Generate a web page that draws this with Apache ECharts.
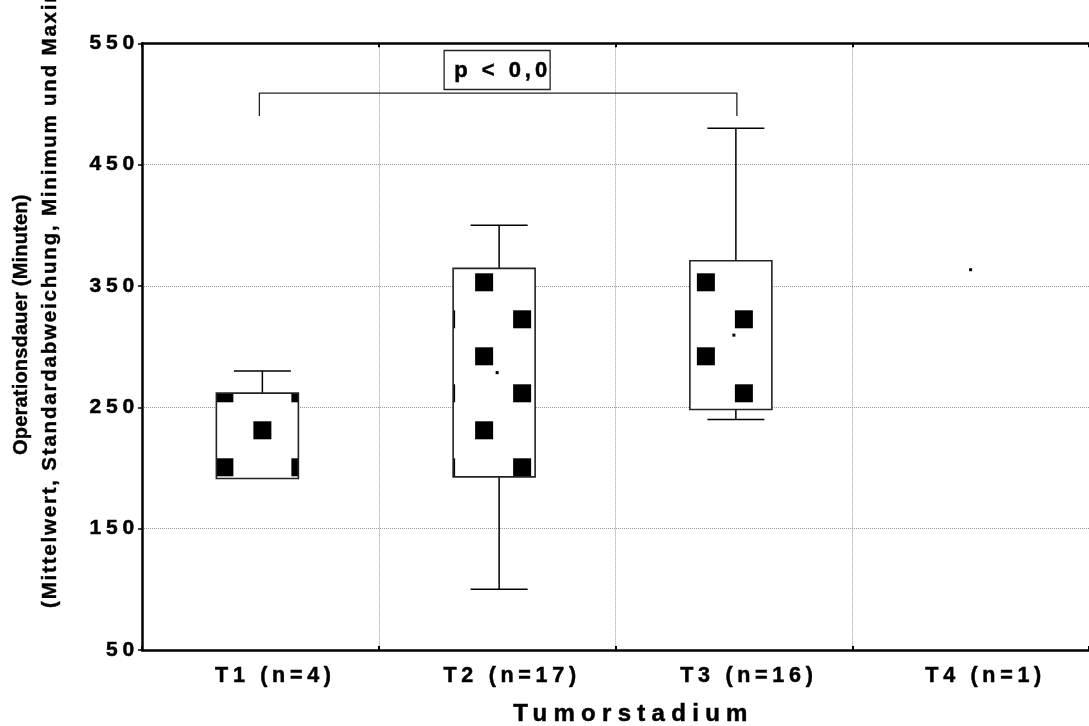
<!DOCTYPE html>
<html><head><meta charset="utf-8">
<script src="https://cdn.jsdelivr.net/npm/echarts@6/dist/echarts.min.js"></script>
<style>html,body{margin:0;padding:0;background:#fff}#c{width:1089px;height:726px}</style>
</head><body><div id="c"></div>
<script>
// ---- data ----
const categories = ['T1 (n=4)', 'T2 (n=17)', 'T3 (n=16)', 'T4 (n=1)'];
const means = [226.5, 278.6, 309.5, 363.4];
const sds = [35.2, 85.9, 61.3, 0];
const mins = [192, 100, 240, 363.4];
const maxs = [280, 400, 480, 363.4];
const yTicks = [50, 150, 250, 350, 450, 550];
const bracketCats = [0, 2];
const bracketLevels = [509, 490];
const pLabel = 'p < 0,0';
const pLabelCat = [1];
const pLabelLevel = [528];
const xTitle = 'Tumorstadium';
const yTitle1 = 'Operationsdauer (Minuten)';
const yTitle2 = '(Mittelwert, Standardabweichung, Minimum und Maximum)';

// ---- letter spacing by font size (reference text is widely spaced) ----
(function () {
  const proto = CanvasRenderingContext2D.prototype;
  const d = Object.getOwnPropertyDescriptor(proto, 'font');
  const map = { '21px': '4.8px', '21.5px': '4.7px', '24px': '6.3px', '22px': '4px', '20px': '0.2px', '20.5px': '1.8px' };
  if (d && 'letterSpacing' in proto) {
    Object.defineProperty(proto, 'font', {
      configurable: true,
      get() { return d.get.call(this); },
      set(v) {
        d.set.call(this, v);
        const m = /(\d+(?:\.\d+)?px)/.exec(v);
        this.letterSpacing = (m && map[m[1]]) || '0px';
      }
    });
  }
})();

const FF = 'Liberation Sans';
const TB = { textBorderColor: '#000', textBorderWidth: 0.5 };
const chart = echarts.init(document.getElementById('c'), null, { renderer: 'canvas' });

function renderBox(params, api) {
  const idx = api.value(0);
  const mean = api.value(1), sd = api.value(2), mn = api.value(3), mx = api.value(4);
  const cs = params.coordSys;
  const c = api.coord([idx, mean]);
  const cx = c[0];
  const boxX = cx - 3, whX = cx + 2;
  const halfW = 41, capHalf = 28.5;
  const yTop = api.coord([idx, mean + sd])[1];
  const yBot = api.coord([idx, mean - sd])[1];
  const yMax = api.coord([idx, mx])[1];
  const yMin = api.coord([idx, mn])[1];
  const ls = { stroke: '#000', lineWidth: 1.5 };
  const ch = [];
  if (yMax < yTop - 0.5) {
    ch.push({ type: 'line', shape: { x1: whX, y1: yTop, x2: whX, y2: yMax }, style: ls });
    ch.push({ type: 'line', shape: { x1: whX - capHalf, y1: yMax, x2: whX + capHalf, y2: yMax }, style: ls });
  }
  if (yMin > yBot + 0.5) {
    ch.push({ type: 'line', shape: { x1: whX, y1: yBot, x2: whX, y2: yMin }, style: ls });
    ch.push({ type: 'line', shape: { x1: whX - capHalf, y1: yMin, x2: whX + capHalf, y2: yMin }, style: ls });
  }
  if (sd > 0) {
    const L = boxX - halfW, R = boxX + halfW, T = yTop, B = yBot;
    ch.push({ type: 'rect', shape: { x: L, y: T, width: R - L, height: B - T }, style: { fill: '#fff' } });
    const rowStart = cs.y + 8, rp = 37, cp = 38, sz = 18;
    const colAnchor = cx - 7 - 15 * idx;
    for (let k = 0; k < 20; k++) {
      const ry = rowStart + rp * k;
      for (let i = -4; i <= 4; i++) {
        if (Math.abs(i + k) % 2 !== 0) continue;
        const rx = colAnchor + cp * i;
        const x0 = Math.max(rx, L), x1 = Math.min(rx + sz, R);
        const y0 = Math.max(ry, T), y1 = Math.min(ry + sz, B);
        if (x1 - x0 > 0.3 && y1 - y0 > 0.3) {
          ch.push({ type: 'rect', shape: { x: x0, y: y0, width: x1 - x0, height: y1 - y0 }, style: { fill: '#000' } });
        }
      }
    }
    ch.push({ type: 'rect', shape: { x: L, y: T, width: R - L, height: B - T }, style: { fill: 'none', stroke: '#222', lineWidth: 1.6 } });
  }
  ch.push({ type: 'rect', shape: { x: cx - 1.5, y: c[1] - 1.5, width: 3, height: 3 }, style: { fill: '#000' } });
  return { type: 'group', children: ch };
}

function renderBracket(params, api) {
  const a = api.value(0), b = api.value(1), top = api.value(2), bot = api.value(3);
  const x1 = api.coord([a, top])[0] - 1;
  const x2 = api.coord([b, top])[0] + 3;
  const yt = api.coord([a, top])[1], yb = api.coord([a, bot])[1];
  return { type: 'polyline', shape: { points: [[x1, yb], [x1, yt], [x2, yt], [x2, yb]] }, style: { stroke: '#222', lineWidth: 1.3, fill: 'none' } };
}

function renderPLabel(params, api) {
  const p = api.coord([api.value(0), api.value(1)]);
  const w = 106, h = 39;
  return {
    type: 'group', children: [
      { type: 'rect', shape: { x: p[0] - w / 2, y: p[1] - h / 2, width: w, height: h }, style: { fill: '#fff', stroke: '#222', lineWidth: 1.3 } },
      { type: 'text', style: { text: pLabel, x: p[0] - w / 2 + 10, y: p[1] + 1, font: 'bold 22px "' + FF + '"', fill: '#000', stroke: '#000', lineWidth: 0.5, align: 'left', verticalAlign: 'middle' } }
    ]
  };
}

const boxData = categories.map((_, i) => [i, means[i], sds[i], mins[i], maxs[i]]);

chart.setOption({
  animation: false,
  backgroundColor: '#fff',
  grid: { left: 142, right: 0, top: 43.3, bottom: 76, containLabel: false, outerBoundsMode: 'none' },
  xAxis: [{
    type: 'category', data: categories, position: 'bottom',
    axisLine: { lineStyle: { color: '#000', width: 2.5 } },
    axisTick: { show: true, inside: true, length: 4, lineStyle: { color: '#000', width: 2 } },
    axisLabel: Object.assign({ fontSize: 21.5, fontWeight: 'bold', fontFamily: FF, color: '#000', margin: 13, padding: [0, 0, 0, 30] }, TB),
    splitLine: { show: true, lineStyle: { color: '#999', type: 'dotted', width: 1 } },
    name: xTitle, nameLocation: 'middle', nameGap: 49,
    nameTextStyle: Object.assign({ fontSize: 24, fontWeight: 'bold', fontFamily: FF, color: '#000', padding: [0, 0, 0, 36] }, TB)
  }, {
    type: 'category', data: categories, position: 'top',
    axisLine: { lineStyle: { color: '#000', width: 2.5 } },
    axisTick: { show: true, inside: true, length: 4, lineStyle: { color: '#000', width: 2 } },
    axisLabel: { show: false }, splitLine: { show: false }
  }],
  yAxis: {
    type: 'value', min: yTicks[0], max: yTicks[yTicks.length - 1], interval: yTicks[1] - yTicks[0],
    axisLine: { show: true, lineStyle: { color: '#000', width: 2.5 } },
    axisTick: { show: true, length: 4, lineStyle: { color: '#000', width: 1.5 } },
    axisLabel: Object.assign({ fontSize: 21, fontWeight: 'bold', fontFamily: FF, color: '#000', margin: 3 }, TB),
    splitLine: { show: true, lineStyle: { color: '#999', type: 'dotted', width: 1 } }
  },
  graphic: [
    { type: 'text', rotation: Math.PI / 2, x: 21, y: 455, style: { text: yTitle1, font: 'bold 20px "' + FF + '"', fill: '#000', stroke: '#000', lineWidth: 0.4, align: 'left', verticalAlign: 'middle' } },
    { type: 'text', rotation: Math.PI / 2, x: 50, y: 608, style: { text: yTitle2, font: 'bold 20.5px "' + FF + '"', fill: '#000', stroke: '#000', lineWidth: 0.4, align: 'left', verticalAlign: 'middle' } }
  ],
  series: [
    { type: 'custom', renderItem: renderBracket, data: [[bracketCats[0], bracketCats[1], bracketLevels[0], bracketLevels[1]]], z: 3, silent: true },
    { type: 'custom', renderItem: renderBox, data: boxData, z: 4, silent: true },
    { type: 'custom', renderItem: renderPLabel, data: [[pLabelCat[0], pLabelLevel[0]]], z: 5, silent: true }
  ]
});
</script>
</body></html>
